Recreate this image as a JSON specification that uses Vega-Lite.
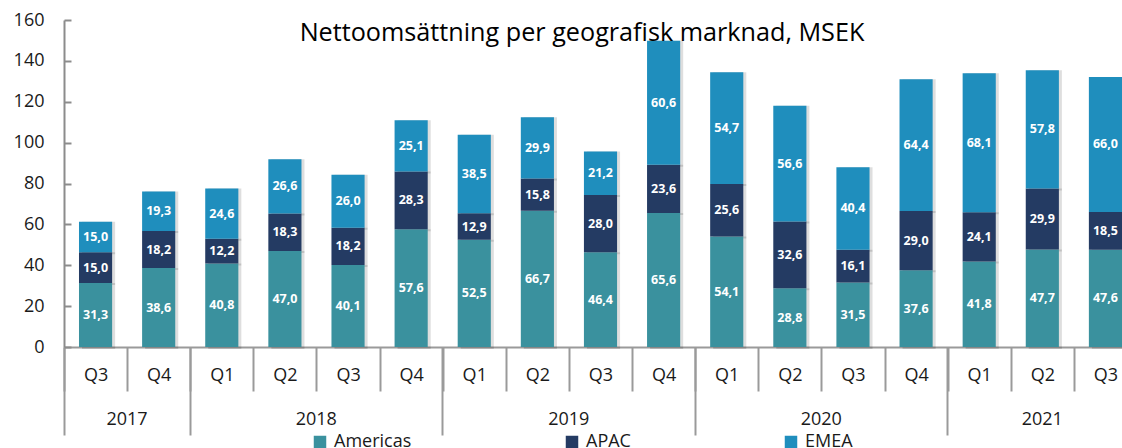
{
  "$schema": "https://vega.github.io/schema/vega-lite/v6.json",
  "width": 1058,
  "height": 327,
  "autosize": {"type": "none"},
  "padding": {"left": 64, "top": 20, "right": 0, "bottom": 101},
  "config": {
    "locale": {"number": {"decimal": ",", "thousands": " ", "grouping": [3], "currency": ["", " kr"]}},
    "view": {"stroke": null},
    "font": "Open Sans"
  },
  "title": {
    "text": "Nettoomsättning per geografisk marknad, MSEK",
    "fontSize": 25.2,
    "fontWeight": "normal",
    "font": "Open Sans",
    "color": "#000000",
    "anchor": "middle",
    "baseline": "alphabetic",
    "offset": -55,
    "dx": -11
  },
  "data": {
    "values": [
      {"period": "2017 Q3", "region": "Americas", "value": 31.3},
      {"period": "2017 Q3", "region": "APAC", "value": 15.0},
      {"period": "2017 Q3", "region": "EMEA", "value": 15.0},
      {"period": "2017 Q4", "region": "Americas", "value": 38.6},
      {"period": "2017 Q4", "region": "APAC", "value": 18.2},
      {"period": "2017 Q4", "region": "EMEA", "value": 19.3},
      {"period": "2018 Q1", "region": "Americas", "value": 40.8},
      {"period": "2018 Q1", "region": "APAC", "value": 12.2},
      {"period": "2018 Q1", "region": "EMEA", "value": 24.6},
      {"period": "2018 Q2", "region": "Americas", "value": 47.0},
      {"period": "2018 Q2", "region": "APAC", "value": 18.3},
      {"period": "2018 Q2", "region": "EMEA", "value": 26.6},
      {"period": "2018 Q3", "region": "Americas", "value": 40.1},
      {"period": "2018 Q3", "region": "APAC", "value": 18.2},
      {"period": "2018 Q3", "region": "EMEA", "value": 26.0},
      {"period": "2018 Q4", "region": "Americas", "value": 57.6},
      {"period": "2018 Q4", "region": "APAC", "value": 28.3},
      {"period": "2018 Q4", "region": "EMEA", "value": 25.1},
      {"period": "2019 Q1", "region": "Americas", "value": 52.5},
      {"period": "2019 Q1", "region": "APAC", "value": 12.9},
      {"period": "2019 Q1", "region": "EMEA", "value": 38.5},
      {"period": "2019 Q2", "region": "Americas", "value": 66.7},
      {"period": "2019 Q2", "region": "APAC", "value": 15.8},
      {"period": "2019 Q2", "region": "EMEA", "value": 29.9},
      {"period": "2019 Q3", "region": "Americas", "value": 46.4},
      {"period": "2019 Q3", "region": "APAC", "value": 28.0},
      {"period": "2019 Q3", "region": "EMEA", "value": 21.2},
      {"period": "2019 Q4", "region": "Americas", "value": 65.6},
      {"period": "2019 Q4", "region": "APAC", "value": 23.6},
      {"period": "2019 Q4", "region": "EMEA", "value": 60.6},
      {"period": "2020 Q1", "region": "Americas", "value": 54.1},
      {"period": "2020 Q1", "region": "APAC", "value": 25.6},
      {"period": "2020 Q1", "region": "EMEA", "value": 54.7},
      {"period": "2020 Q2", "region": "Americas", "value": 28.8},
      {"period": "2020 Q2", "region": "APAC", "value": 32.6},
      {"period": "2020 Q2", "region": "EMEA", "value": 56.6},
      {"period": "2020 Q3", "region": "Americas", "value": 31.5},
      {"period": "2020 Q3", "region": "APAC", "value": 16.1},
      {"period": "2020 Q3", "region": "EMEA", "value": 40.4},
      {"period": "2020 Q4", "region": "Americas", "value": 37.6},
      {"period": "2020 Q4", "region": "APAC", "value": 29.0},
      {"period": "2020 Q4", "region": "EMEA", "value": 64.4},
      {"period": "2021 Q1", "region": "Americas", "value": 41.8},
      {"period": "2021 Q1", "region": "APAC", "value": 24.1},
      {"period": "2021 Q1", "region": "EMEA", "value": 68.1},
      {"period": "2021 Q2", "region": "Americas", "value": 47.7},
      {"period": "2021 Q2", "region": "APAC", "value": 29.9},
      {"period": "2021 Q2", "region": "EMEA", "value": 57.8},
      {"period": "2021 Q3", "region": "Americas", "value": 47.6},
      {"period": "2021 Q3", "region": "APAC", "value": 18.5},
      {"period": "2021 Q3", "region": "EMEA", "value": 66.0}
    ]
  },
  "transform": [
    {"stack": "value", "groupby": ["period"], "as": ["v0", "v1"]}
  ],
  "layer": [
    {
      "mark": {"type": "bar", "width": {"band": 0.525}, "color": "#000000", "opacity": 0.13, "xOffset": 3, "yOffset": 2},
      "encoding": {
        "x": {"field": "period", "type": "nominal", "sort": null, "axis": null},
        "y": {"field": "v0", "type": "quantitative"},
        "y2": {"field": "v1"}
      }
    },
    {
      "mark": {"type": "bar", "width": {"band": 0.525}},
      "encoding": {
        "x": {
          "field": "period", "type": "nominal", "sort": null,
          "scale": {"range": [0, 1073], "paddingInner": 0, "paddingOuter": 0},
          "axis": {
            "title": null, "orient": "bottom",
            "labelExpr": "datum.value ? substring(datum.value, 5) : ''",
            "tickBand": "extent", "tickSize": 44, "tickColor": "#9a9a9a", "tickWidth": 2,
            "domainColor": "#9a9a9a", "domainWidth": 2,
            "labelFontSize": 18, "labelFont": "Open Sans", "labelColor": "#1a1a1a",
            "labelBaseline": "middle", "labelPadding": -16, "labelAngle": 0
          }
        },
        "y": {
          "field": "v0", "type": "quantitative",
          "scale": {"domain": [0, 160]},
          "axis": {
            "title": null, "grid": false,
            "values": [0, 20, 40, 60, 80, 100, 120, 140, 160],
            "domainColor": "#8c8c8c", "domainWidth": 2,
            "tickColor": "#8c8c8c", "tickWidth": 2, "tickSize": -7,
            "labelFontSize": 18, "labelFont": "Open Sans", "labelColor": "#1a1a1a",
            "labelPadding": 27
          }
        },
        "y2": {"field": "v1"},
        "color": {
          "field": "region", "type": "nominal",
          "scale": {"domain": ["Americas", "APAC", "EMEA"], "range": ["#3A919E", "#243B63", "#1F8EBD"]},
          "legend": {
            "title": null, "orient": "none", "legendX": 247, "legendY": 413,
            "direction": "horizontal", "symbolType": "square", "symbolSize": 156,
            "symbolStrokeWidth": 0, "symbolOpacity": 1,
            "labelFontSize": 18, "labelFont": "Open Sans", "labelColor": "#1a1a1a",
            "labelOffset": 5, "columnPadding": 151, "padding": 0
          }
        }
      }
    },
    {
      "mark": {
        "type": "text", "color": "#ffffff", "fontWeight": "bold", "fontSize": 12.5,
        "font": "Open Sans", "baseline": "middle", "align": "center",
        "dy": {"expr": "(scale('y', datum.v1) - scale('y', datum.v0)) / 2"}
      },
      "encoding": {
        "x": {
          "field": "period", "type": "nominal", "sort": null,
          "axis": {
            "title": null, "orient": "bottom",
            "values": ["2017 Q3", "2018 Q1", "2019 Q1", "2020 Q1", "2021 Q1"],
            "bandPosition": 0,
            "labelExpr": "substring(datum.value, 0, 4)",
            "tickSize": 88, "tickColor": "#9a9a9a", "tickWidth": 2,
            "domain": false,
            "labelFontSize": 18, "labelFont": "Open Sans", "labelColor": "#1a1a1a",
            "labelBaseline": "middle", "labelPadding": -16, "labelAlign": "center",
            "labelAngle": 0, "labelFlush": false, "labelOverlap": false,
            "labelOffset": {
              "condition": [
                {"test": "datum.value === '2017 Q3'", "value": 31.5},
                {"test": "datum.value === '2021 Q1'", "value": 63}
              ],
              "value": 94.5
            }
          }
        },
        "y": {"field": "v0", "type": "quantitative"},
        "text": {"field": "value", "type": "quantitative", "format": ".1f"}
      }
    }
  ],
  "resolve": {"axis": {"x": "independent"}}
}
